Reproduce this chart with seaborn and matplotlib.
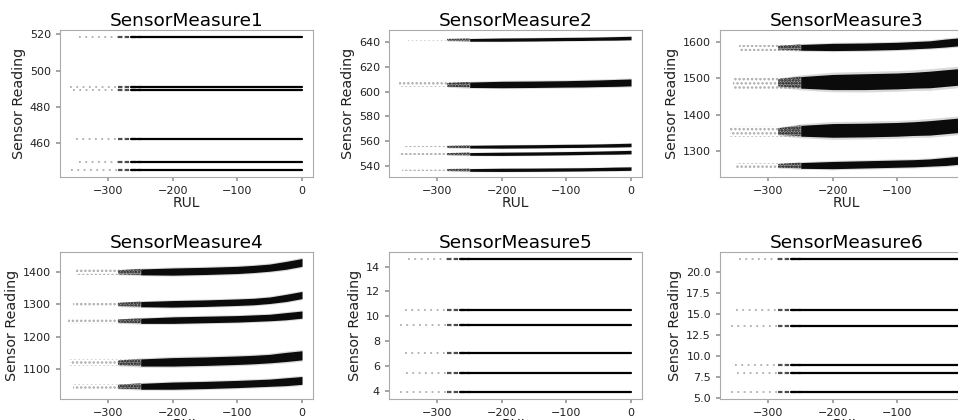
import numpy as np
import matplotlib
matplotlib.use("Agg")
import matplotlib.pyplot as plt
import seaborn as sns

# --- Data (RUL on x, sensor reading on y) ---
DENSE_START = -285          # RUL where the dense part of every band begins
TAIL_END = -285

# flat sensors: one constant level per operating condition
S1_LEVELS = [518.67, 491.19, 489.05, 462.54, 449.44, 445.00]
S1_TAIL_START = [-345, -360, -355, -350, -345, -358]
S5_LEVELS = [14.62, 10.52, 9.35, 7.05, 5.48, 3.91]
S5_TAIL_START = [-345, -350, -358, -350, -348, -358]
S6_LEVELS = [21.61, 15.49, 13.66, 9.02, 7.97, 5.71]
S6_TAIL_START = [-345, -350, -358, -352, -348, -358]

# drifting sensors: band centre and half width at a few RUL values
RUL_KNOTS = [-285, -250, -200, -150, -100, -75, -50, -25, 0]

S2_CENTERS = [
    [642.0, 642.0, 642.2, 642.4, 642.7, 642.8, 643.0, 643.2, 643.5],
    [605.5, 605.6, 605.8, 606.0, 606.3, 606.5, 606.8, 607.1, 607.5],
    [555.3, 555.4, 555.5, 555.7, 556.0, 556.1, 556.3, 556.5, 556.8],
    [549.4, 549.5, 549.6, 549.8, 550.1, 550.3, 550.5, 550.7, 551.0],
    [536.5, 536.5, 536.6, 536.7, 536.9, 537.0, 537.2, 537.4, 537.6],
]
S2_HALF = [
    [0.8, 1.1, 1.3, 1.3, 1.3, 1.3, 1.3, 1.4, 1.4],
    [1.5, 2.2, 2.6, 2.6, 2.6, 2.7, 2.7, 2.8, 2.8],
    [0.8, 1.1, 1.3, 1.3, 1.3, 1.3, 1.3, 1.4, 1.4],
    [0.8, 1.1, 1.3, 1.3, 1.3, 1.3, 1.3, 1.4, 1.4],
    [0.8, 1.1, 1.3, 1.3, 1.3, 1.3, 1.3, 1.4, 1.4],
]
S2_TAIL_START = [-345, -360, -352, -360, -355]

S3_CENTERS = [
    [1585, 1586, 1587, 1588, 1590, 1592, 1594, 1598, 1602],
    [1488, 1489, 1490, 1491, 1493, 1495, 1497, 1501, 1505],
    [1353, 1355, 1356, 1357, 1359, 1361, 1363, 1367, 1371],
    [1258, 1259, 1260, 1262, 1264, 1265, 1267, 1270, 1274],
]
S3_HALF = [
    [5, 8, 10, 10, 10, 10, 10, 11, 11],
    [10, 16, 21, 22, 22, 22, 23, 23, 23],
    [9, 15, 19, 19, 19, 19, 20, 20, 20],
    [5, 8, 10, 10, 10, 10, 10, 11, 11],
]
S3_TAIL_START = [-345, -355, -360, -350]

S4_CENTERS = [
    [1398, 1399, 1400, 1402, 1405, 1408, 1412, 1419, 1428],
    [1299, 1300, 1301, 1303, 1306, 1308, 1312, 1319, 1328],
    [1248, 1249, 1251, 1253, 1255, 1257, 1259, 1263, 1268],
    [1120, 1121, 1123, 1125, 1128, 1130, 1133, 1138, 1143],
    [1047, 1048, 1050, 1052, 1055, 1057, 1059, 1062, 1066],
]
S4_HALF = [
    [6, 9, 11, 11, 11, 11, 11, 12, 12],
    [5, 8, 10, 10, 10, 10, 10, 11, 11],
    [5, 8, 10, 10, 10, 10, 10, 11, 11],
    [7, 11, 13, 13, 13, 13, 13, 14, 14],
    [6, 9, 11, 11, 11, 11, 11, 12, 12],
]
S4_TAIL_START = [-350, -355, -362, -360, -355]

TITLES = ["SensorMeasure1", "SensorMeasure2", "SensorMeasure3",
          "SensorMeasure4", "SensorMeasure5", "SensorMeasure6"]
Y_TICKS = [
    [460, 480, 500, 520],
    [540, 560, 580, 600, 620, 640],
    [1300, 1400, 1500, 1600],
    [1100, 1200, 1300, 1400],
    [4, 6, 8, 10, 12, 14],
    [5.0, 7.5, 10.0, 12.5, 15.0, 17.5, 20.0],
]
Y_LIMS = [(441.3, 522.4), (530.8, 650.0), (1227, 1634),
          (1009, 1460), (3.37, 15.17), (4.92, 22.4)]
X_TICKS = [-300, -200, -100, 0]

# --- Style ---
sns.set_theme(style="ticks")
plt.rcParams.update({
    "font.family": ["DejaVu Sans"],
    "axes.edgecolor": "#aaaaaa",
    "axes.linewidth": 0.8,
    "xtick.color": "#999999",
    "ytick.color": "#999999",
    "xtick.labelcolor": "#222222",
    "ytick.labelcolor": "#222222",
    "xtick.major.size": 3,
    "ytick.major.size": 3,
    "xtick.labelsize": 8,
    "ytick.labelsize": 8,
    "hatch.linewidth": 1.2,
})

W, H = 958, 420
fig = plt.figure(figsize=(W / 100, H / 100), dpi=100)
lefts = [60, 389, 720]
tops = [30, 252]
aw, ah = 253, 147
axes = []
for r in range(2):
    for c in range(3):
        axes.append(fig.add_axes([lefts[c] / W, (H - tops[r] - ah) / H, aw / W, ah / H]))


def draw_flat(ax, levels, tail_starts):
    for lvl, start in zip(levels, tail_starts):
        sns.lineplot(x=[start, TAIL_END], y=[lvl, lvl], ax=ax, color="#777777",
                     linewidth=1.3, linestyle=(0, (1, 2.5)), alpha=0.6)
        sns.lineplot(x=[DENSE_START, -250], y=[lvl, lvl], ax=ax, color="black",
                     linewidth=1.6, linestyle=(0, (2, 1)), alpha=0.7)
        sns.lineplot(x=[-265, 0], y=[lvl, lvl], ax=ax, color="black", linewidth=1.6)


def draw_bands(ax, centers, halves, tail_starts):
    knots = np.array(RUL_KNOTS)
    for cen, half, start in zip(centers, halves, tail_starts):
        cen = np.array(cen, dtype=float)
        half = np.array(half, dtype=float)
        # sparse tail of the band: scattered dots
        ax.fill_between([start, knots[1]], cen[0] - 0.8 * half[2], cen[0] + 0.8 * half[2],
                        facecolor="none", edgecolor="#8a8a8a", hatch="....",
                        linewidth=0, alpha=0.7)
        # fuzzy outer edge
        ax.fill_between(knots, cen - 1.3 * half, cen + 1.3 * half,
                        color="black", alpha=0.15, linewidth=0)
        # thinning start of the dense part
        ax.fill_between(knots[:2], cen[:2] - half[:2], cen[:2] + half[:2],
                        facecolor=(0, 0, 0, 0.25), edgecolor="#111111",
                        hatch="......", linewidth=0)
        ax.fill_between(knots[1:], cen[1:] - half[1:], cen[1:] + half[1:],
                        color="black", alpha=0.95, linewidth=0)


draw_flat(axes[0], S1_LEVELS, S1_TAIL_START)
draw_bands(axes[1], S2_CENTERS, S2_HALF, S2_TAIL_START)
draw_bands(axes[2], S3_CENTERS, S3_HALF, S3_TAIL_START)
draw_bands(axes[3], S4_CENTERS, S4_HALF, S4_TAIL_START)
draw_flat(axes[4], S5_LEVELS, S5_TAIL_START)
draw_flat(axes[5], S6_LEVELS, S6_TAIL_START)

for ax, title, yt, yl in zip(axes, TITLES, Y_TICKS, Y_LIMS):
    ax.set_xlim(-375, 17)
    ax.set_ylim(*yl)
    ax.set_xticks(X_TICKS)
    ax.set_yticks(yt)
    ax.set_title(title, fontsize=13.3, pad=2, color="black")
    ax.set_xlabel("RUL", fontsize=10, labelpad=0, color="#222222")
    ax.set_ylabel("Sensor Reading", fontsize=10.3, labelpad=3, color="#222222")
    for s in ax.spines.values():
        s.set_visible(True)

fig.savefig("out.png", dpi=100)
